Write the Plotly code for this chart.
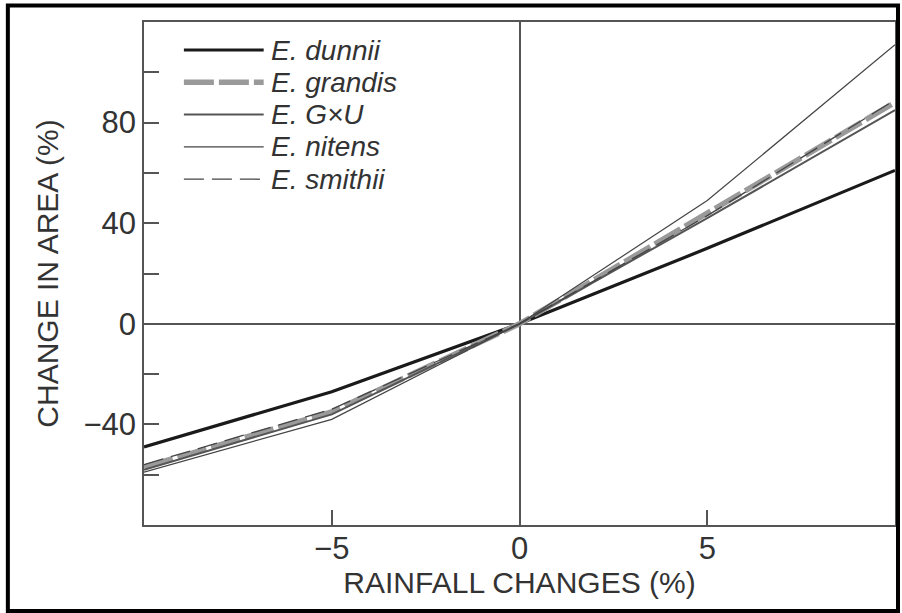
import plotly.graph_objects as go

rainfall = [-10, -5, 0, 5, 10]
species = ["E. dunnii", "E. grandis", "E. G×U", "E. nitens", "E. smithii"]
dunnii = [-49, -27, 0, 30, 61]
grandis = [-57, -35, 0, 44, 88]
gxu = [-58, -36, 0, 42, 85]
nitens = [-59, -38, 0, 49, 111]
smithii = [-56, -34, 0, 43, 89]
y_tickvals = [-60, -40, -20, 0, 20, 40, 60, 80, 100]
y_ticktext = ["", "\u221240", "", "0", "", "40", "", "80", ""]
x_tickvals = [-5, 0, 5]
x_ticktext = ["\u22125", "0", "5"]

series = [dunnii, grandis, gxu, nitens, smithii]
styles = [
    dict(color="#1a1a1a", width=3.2, dash="solid"),
    dict(color="#9a9a9a", width=5.5, dash="30px,5px"),
    dict(color="#555555", width=2.0, dash="solid"),
    dict(color="#444444", width=1.2, dash="solid"),
    dict(color="#444444", width=1.3, dash="20px,8px"),
]

FONT = "Liberation Sans, Arial, sans-serif"
TXT = "#333333"
fig = go.Figure()
for name, vals, st in zip(species, series, styles):
    fig.add_trace(go.Scatter(
        x=rainfall, y=vals, mode="lines", name=name,
        line=st, showlegend=False,
    ))

axis_common = dict(
    showline=True, linecolor="#555555", linewidth=1.5, mirror=True,
    ticks="inside", tickcolor="#555555", tickwidth=1.5, ticklen=15,
    showgrid=False, zeroline=True, zerolinecolor="#555555", zerolinewidth=1.5,
    tickfont=dict(family=FONT, size=31, color=TXT),
)
fig.update_xaxes(range=[-10, 10], tickvals=x_tickvals, ticktext=x_ticktext,
                 ticklabelstandoff=-5,
                 title=dict(text="RAINFALL CHANGES (%)", standoff=3,
                            font=dict(family=FONT, size=30, color=TXT)),
                 **axis_common)
fig.update_yaxes(range=[-80, 120], tickvals=y_tickvals, ticktext=y_ticktext,
                 title=dict(text="CHANGE IN AREA (%)", standoff=16,
                            font=dict(family=FONT, size=30, color=TXT)),
                 **axis_common)

# plot-area geometry in pixels (for placing legend / frame in paper coords)
L, R, T, B = 144, 897, 22, 525
W, H = R - L, B - T

def px_x(px):
    return (px - L) / W

def px_y(py):
    return (B - py) / H

# custom legend (long sample lines as in the original figure)
leg_x0, leg_x1, leg_text_x = 184, 264, 269
leg_row0, leg_step = 50, 32.3
for i, (name, st) in enumerate(zip(species, styles)):
    yy = px_y(leg_row0 + i * leg_step)
    fig.add_shape(type="line", xref="paper", yref="paper",
                  x0=px_x(leg_x0), x1=px_x(leg_x1), y0=yy, y1=yy,
                  line=dict(color=st["color"], width=st["width"], dash=st["dash"]))
    fig.add_annotation(xref="paper", yref="paper", x=px_x(leg_text_x), y=yy,
                       xanchor="left", yanchor="middle", showarrow=False,
                       text="<i>" + name + "</i>",
                       font=dict(family=FONT, size=28, color=TXT))

# outer black frame
fig.add_shape(type="rect", xref="paper", yref="paper",
              x0=px_x(7.5), x1=px_x(900), y0=px_y(611), y1=px_y(5.5),
              line=dict(color="black", width=4), fillcolor="rgba(0,0,0,0)")

fig.update_layout(
    width=902, height=613,
    margin=dict(l=L, r=902 - R, t=T, b=613 - B),
    paper_bgcolor="white", plot_bgcolor="white",
    showlegend=False,
)
fig.write_html("out.html")
